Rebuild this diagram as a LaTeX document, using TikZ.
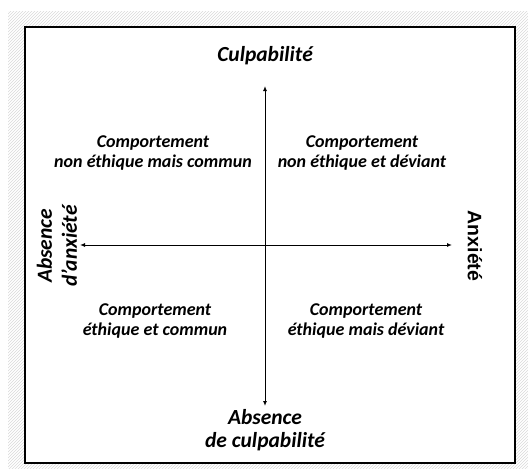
\documentclass[tikz,border=0pt]{standalone}
\usepackage{fontspec}
\setmainfont{Carlito}
\newfontfamily\arialfont{Liberation Sans}
\usetikzlibrary{
	calc,
	arrows.meta,
	patterns,
	positioning,
}
\tikzset{
	axis/.style={line width=1pt, {Latex[length=5pt,width=4pt]}-{Latex[length=5pt,width=4pt]}},
	pole/.style={font=\fontsize{21.5}{23}\selectfont\bfseries\itshape, align=center, inner sep=0pt},
	quadrant/.style={font=\fontsize{18}{20}\selectfont\bfseries\itshape, align=center, inner sep=0pt},
}

\begin{document}
\begin{tikzpicture}[x=1pt, y=-1pt]
\useasboundingbox (0,0) rectangle (528,469);
\fill[pattern=north east lines, pattern color=gray!30] (8,11) rectangle (528,469);
\draw[line width=1.6pt, fill=white] (25,27) rectangle (515,463);
% axes
\coordinate (o) at (265,245);
\coordinate (top) at (265,86);
\coordinate (bot) at (265,406);
\coordinate (lft) at (80,245);
\coordinate (rgt) at (452,245);
\draw[axis] (bot) -- (top);
\draw[axis] (lft) -- (rgt);
% poles
\node[pole] (culp) at (265,56) {Culpabilit\'e};
\node[pole] (noculp) at (265,430) {Absence\\de culpabilit\'e};
\node[pole, rotate=90, font=\fontsize{21.5}{25}\selectfont\bfseries\itshape] (noanx) at (57,246) {Absence\\d'anxi\'et\'e};
\node[pole, rotate=-90, font=\fontsize{19.5}{22}\selectfont\bfseries\arialfont] (anx) at (475,246) {Anxi\'et\'e};
% quadrants
\node[quadrant] (q1) at (153,153) {Comportement\\non \'ethique mais commun};
\node[quadrant] (q2) at (362,153) {Comportement\\non \'ethique et d\'eviant};
\node[quadrant] (q3) at (155,321) {Comportement\\\'ethique et commun};
\node[quadrant] (q4) at (366,321) {Comportement\\\'ethique mais d\'eviant};
\end{tikzpicture}
\end{document}
